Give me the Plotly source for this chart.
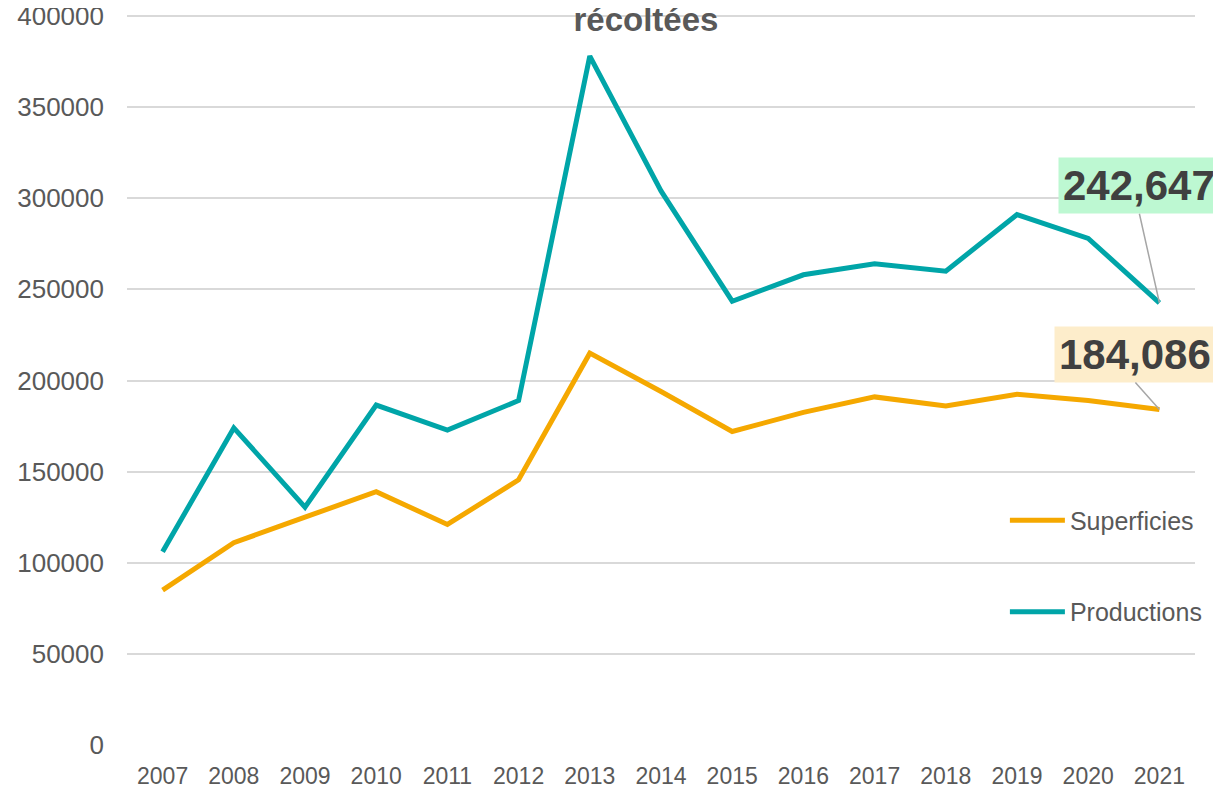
import plotly.graph_objects as go

years = ["2007", "2008", "2009", "2010", "2011", "2012", "2013", "2014",
         "2015", "2016", "2017", "2018", "2019", "2020", "2021"]
superficies = [85000, 111000, 125000, 139000, 121000, 145500, 215000, 194000,
               172000, 182500, 191000, 186000, 192500, 189000, 184086]
productions = [106000, 174000, 130500, 186500, 172800, 189000, 378000, 304000,
               243500, 258000, 264000, 260000, 291000, 278000, 242647]
y_ticks = [0, 50000, 100000, 150000, 200000, 250000, 300000, 350000, 400000]

ORANGE = "#F5A800"
TEAL = "#00A5A8"
GREY_TXT = "#595959"

fig = go.Figure()
fig.add_trace(go.Scatter(x=years, y=superficies, mode="lines", name="Superficies",
                         legendgroup="s", line=dict(color=ORANGE, width=5)))
fig.add_trace(go.Scatter(x=years, y=productions, mode="lines", name="Productions",
                         legendgroup="p", line=dict(color=TEAL, width=5)))

last = len(years) - 1  # category index of the last year
fig.add_annotation(x=last, y=productions[-1], text=f"<b>{productions[-1]:,}</b>",
                   showarrow=True, arrowhead=0, arrowwidth=1.5, arrowcolor="#A6A6A6",
                   ax=-20, ay=-89, xanchor="center", yanchor="bottom", standoff=0,
                   bgcolor="#BDF8D2", borderpad=4,
                   font=dict(family="Liberation Sans, Arial", size=42, color="#404040"))
fig.add_annotation(x=last, y=superficies[-1], text=f"<b>{superficies[-1]:,}</b>",
                   showarrow=True, arrowhead=0, arrowwidth=1.5, arrowcolor="#A6A6A6",
                   ax=-24, ay=-27, xanchor="center", yanchor="bottom", standoff=0,
                   bgcolor="#FDEDCB", borderpad=4,
                   font=dict(family="Liberation Sans, Arial", size=42, color="#404040"))

fig.update_layout(
    width=1221, height=790, autosize=False,
    margin=dict(l=119, r=34, t=6, b=53, autoexpand=False),
    paper_bgcolor="white", plot_bgcolor="white",
    font=dict(family="Liberation Sans, Arial", color=GREY_TXT),
    title=dict(text="<b>récoltées</b>", xref="container", x=0.5225, xanchor="center",
               yref="container", y=0.971, yanchor="bottom",
               font=dict(family="Liberation Sans, Arial", size=33, color=GREY_TXT)),
    xaxis=dict(type="category", range=[-0.5, 14.5], showgrid=False, zeroline=False,
               showline=False, ticks="", ticklabelstandoff=15, automargin=False,
               tickfont=dict(size=23, color=GREY_TXT, family="Liberation Sans, Arial")),
    yaxis=dict(range=[0, 401100], tickvals=y_ticks, ticktext=[str(v) for v in y_ticks],
               showgrid=True, gridcolor="#D9D9D9", gridwidth=1.5, zeroline=False,
               showline=False, ticks="", ticklabelstandoff=22, automargin=False,
               ticklabeloverflow="allow",
               tickfont=dict(size=26, color=GREY_TXT)),
    legend=dict(x=0.822, xanchor="left", y=0.245, yanchor="middle",
                traceorder="grouped", tracegroupgap=56, itemwidth=55,
                bgcolor="rgba(0,0,0,0)",
                font=dict(size=25, color=GREY_TXT)),
)

fig.write_html("out.html")
